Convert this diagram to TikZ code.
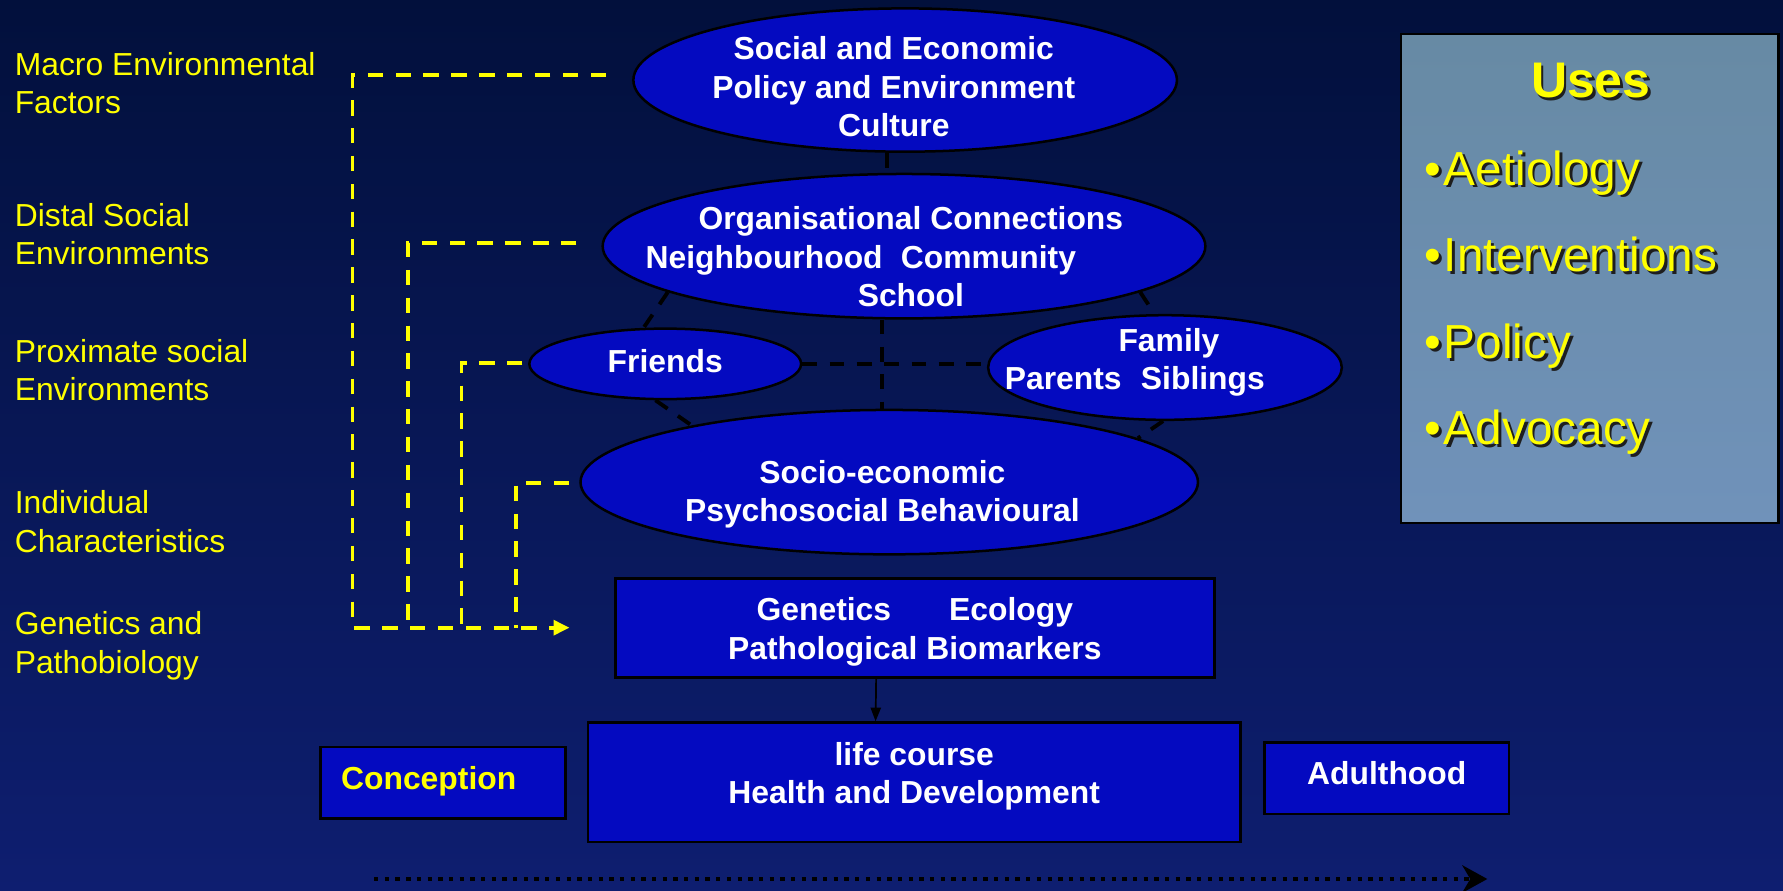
\documentclass[tikz,border=0pt]{standalone}
\usepackage{fontspec}
\setmainfont{Liberation Sans}
\usetikzlibrary{shapes.geometric,arrows.meta}

\definecolor{bgtop}{RGB}{2,16,60}
\definecolor{bgbot}{RGB}{14,30,112}
\definecolor{boxblue}{RGB}{4,10,192}
\definecolor{yel}{RGB}{255,255,0}
\definecolor{usestop}{RGB}{103,138,164}
\definecolor{usesbot}{RGB}{112,146,186}
\definecolor{shadowc}{RGB}{30,30,30}

% centred block of lines: #1 horizontal offset, #2 raise of the first baseline, #3 lines
\newcommand\ctr[3]{\smash{\raisebox{#2}{\makebox[0pt]{\kern#1\kern#1\smash{\begin{tabular}[t]{@{}c@{}}#3\end{tabular}}}}}}
% left aligned block of lines starting at the node point
\newcommand\lft[1]{\rlap{\smash{\begin{tabular}[t]{@{}l@{}}#1\end{tabular}}}}
% one line moved sideways by #1
\newcommand\sh[2]{\makebox[0pt]{\kern#1\kern#1#2}}
% text with a dark drop shadow
\newcommand\shd[1]{\rlap{\kern2.5pt\raisebox{-2.5pt}{\color{shadowc}#1}}#1}

\begin{document}
\begin{tikzpicture}[x=1pt,y=-1pt,
  ell/.style={ellipse, draw=black, line width=2.2pt, fill=boxblue, inner sep=0pt,
    text=white, font=\bfseries\fontsize{28}{33.7}\selectfont},
  blk/.style={rectangle, draw=black, line width=2.4pt, fill=boxblue, inner sep=0pt,
    text=white, font=\bfseries\fontsize{28}{34}\selectfont},
  side/.style={inner sep=0pt, text=yel, font=\fontsize{28}{34}\selectfont},
  kdash/.style={draw=black, line width=3.4pt, dash pattern=on 13pt off 11pt},
  ydash/.style={draw=yel, line width=3.2pt, dash pattern=on 13.5pt off 11pt},
]
% background
\fill[top color=bgtop, bottom color=bgbot] (0,0) rectangle (1568,783);
\useasboundingbox (0,0) rectangle (1568,783);

% level labels
\node[side] (lab1) at (13,66)    {\lft{Macro Environmental\\Factors}};
\node[side] (lab2) at (13,199)   {\lft{Distal Social\\Environments}};
\node[side] (lab3) at (13,318.4) {\lft{Proximate social\\Environments}};
\node[side] (lab4) at (13,451.6) {\lft{Individual\\Characteristics}};
\node[side] (lab5) at (13,558)   {\lft{Genetics and\\Pathobiology}};

% ellipses
\node[ell, minimum width=478pt, minimum height=126pt] (soc) at (796,70.4)
  {\ctr{-10pt}{17.9pt}{Social and Economic\\Policy and Environment\\Culture}};
\node[ell, minimum width=530pt, minimum height=127pt] (org) at (795,216.5)
  {\ctr{0pt}{14.5pt}{\sh{6pt}{Organisational Connections}\\\sh{-38pt}{Neighbourhood\hspace{16pt}Community}\\\sh{6pt}{School}}};
\node[ell, minimum width=239pt, minimum height=62pt] (fr) at (585,320)
  {\ctr{0pt}{-7.5pt}{Friends}};
\node[ell, minimum width=311pt, minimum height=92pt] (fam) at (1024.5,323.2)
  {\ctr{0pt}{14.2pt}{\sh{3.5pt}{Family}\\\sh{-26.5pt}{Parents\hspace{17pt}Siblings}}};
\node[ell, minimum width=543pt, minimum height=127pt] (se) at (782,424)
  {\ctr{-6pt}{-0.8pt}{Socio-economic\\Psychosocial Behavioural}};

% boxes
\node[blk, minimum width=527pt, minimum height=87pt] (gen) at (804.5,552)
  {\ctr{0pt}{6.3pt}{Genetics\hspace{51pt}Ecology\\Pathological Biomarkers}};
\node[blk, minimum width=574pt, minimum height=105pt] (life) at (804,688)
  {\ctr{0pt}{15pt}{life course\\Health and Development}};
\node[blk, minimum width=215pt, minimum height=63pt, text=yel] (conc) at (389.5,688.5)
  {\ctr{-12.5pt}{-6.1pt}{Conception}};
\node[blk, minimum width=215pt, minimum height=63pt] (adult) at (1219.5,684.4)
  {\ctr{0pt}{-5.2pt}{Adulthood}};

% uses panel
\node[draw=black, line width=2pt, top color=usestop, bottom color=usesbot,
  minimum width=332pt, minimum height=430pt, inner sep=0pt] (uses) at (1398,245) {};
\node[inner sep=0pt, text=yel, font=\bfseries\fontsize{44}{50}\selectfont] (usesT) at (1399,86)
  {\ctr{0pt}{0pt}{\shd{Uses}}};
\node[inner sep=0pt, text=yel, font=\fontsize{42}{76.2}\selectfont] (usesL) at (1253,162.7)
  {\lft{\shd{•\kern2pt Aetiology}\\\shd{•\kern2pt Interventions}\\\shd{•\kern2pt Policy}\\\shd{•\kern2pt Advocacy}}};

% black dashed links between the environments
\draw[kdash] ([xshift=-16pt]soc.south) -- ([xshift=-15pt]org.north);
\draw[kdash] ([xshift=-19pt]org.south) -- ([xshift=-6pt]se.north);
\draw[kdash] (fr.east) -- (fr.east -| fam.west);
\draw[kdash] (org.191.3) -- (fr.121.5);
\draw[kdash] (org.349.1) -- (fam.101.7);
\draw[kdash] (fr.255.7) -- (se.164.8);
\draw[kdash] (fam.268) -- (se.10.4);

% yellow feeds into the genetics box
\coordinate (busA) at (310,552);
\coordinate (busB) at (359,552);
\coordinate (busC) at (406,552);
\coordinate (busD) at (454,552);
\draw[ydash, shorten <=23pt, shorten >=39pt, -{Triangle[length=14pt,width=13pt]}]
  ([yshift=4.4pt]soc.west) -| (busA) -- (gen.west);
\draw[ydash, shorten <=22pt] ([yshift=2.8pt]org.west) -| (busB);
\draw[ydash, shorten <=5pt] ([yshift=1pt]fr.west) -| (busC);
\draw[ydash, shorten <=9pt] ([yshift=-0.5pt]se.west) -| (busD);

% genetics to health
\draw[line width=1.5pt, -{Triangle[length=12pt,width=9pt]}]
  ([xshift=-34pt]gen.south) -- ([xshift=-34pt]life.north);

% time axis
\coordinate (t0) at (329,773);
\coordinate (t1) at (1308,773);
\draw[line width=3.8pt, dash pattern=on 3.8pt off 5.6pt,
  -{Stealth[length=22pt,width=24pt,inset=7pt]}] (t0) -- (t1);
\end{tikzpicture}
\end{document}
